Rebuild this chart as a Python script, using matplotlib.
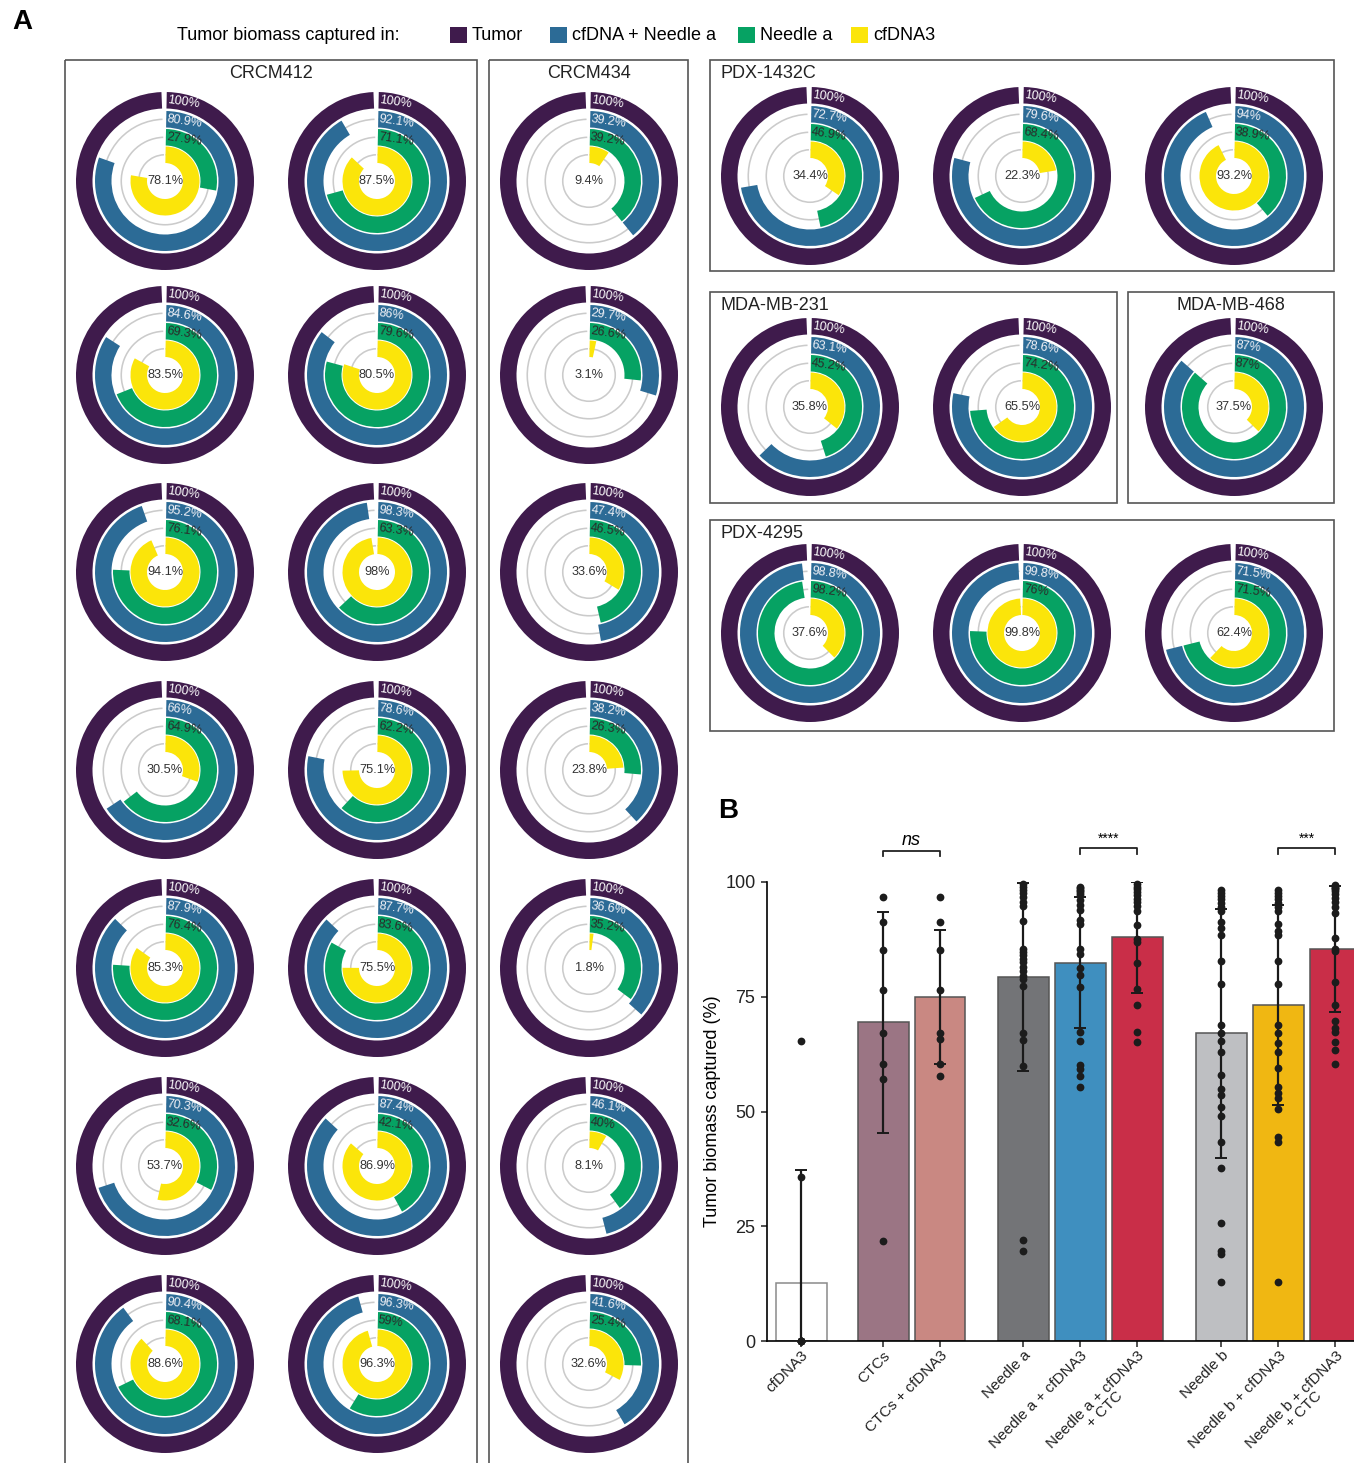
import numpy as np
import matplotlib.pyplot as plt
from matplotlib.patches import Rectangle

plt.rcParams['font.family'] = ['Liberation Sans', 'DejaVu Sans']

# canvas size in pixels (dpi 100)
W, H = 1354, 1463

# ring colours (outer -> inner)
C_TUMOR = '#3f1b4c'
C_BLUE = '#2c6b96'
C_GREEN = '#06a263'
C_YELLOW = '#fbe50a'
C_TRACK = '#cbcbcb'

# ---------------- panel A: % tumor biomass captured ----------------
# CRCM412, row by row (left, right)
crcm412_blue = [80.9, 92.1, 84.6, 86, 95.2, 98.3, 66, 78.6, 87.9, 87.7, 70.3, 87.4, 90.4, 96.3]
crcm412_green = [27.9, 71.1, 69.3, 79.6, 76.1, 63.3, 64.9, 62.2, 76.4, 83.6, 32.6, 42.1, 68.1, 59]
crcm412_yellow = [78.1, 87.5, 83.5, 80.5, 94.1, 98, 30.5, 75.1, 85.3, 75.5, 53.7, 86.9, 88.6, 96.3]

crcm434_blue = [39.2, 29.7, 47.4, 38.2, 36.6, 46.1, 41.6]
crcm434_green = [39.2, 26.6, 46.5, 26.3, 35.2, 40, 25.4]
crcm434_yellow = [9.4, 3.1, 33.6, 23.8, 1.8, 8.1, 32.6]

pdx1432c_blue = [72.7, 79.6, 94]
pdx1432c_green = [46.9, 68.4, 38.9]
pdx1432c_yellow = [34.4, 22.3, 93.2]

mda231_blue = [63.1, 78.6]
mda231_green = [45.2, 74.2]
mda231_yellow = [35.8, 65.5]

mda468_blue = [87]
mda468_green = [87]
mda468_yellow = [37.5]

pdx4295_blue = [98.8, 99.8, 71.5]
pdx4295_green = [98.2, 76, 71.5]
pdx4295_yellow = [37.6, 99.8, 62.4]

legend_labels = ['Tumor', 'cfDNA + Needle a', 'Needle a', 'cfDNA3']

# ---------------- panel B ----------------
b_labels = ['cfDNA3', 'CTCs', 'CTCs + cfDNA3', 'Needle a', 'Needle a + cfDNA3',
            'Needle a + cfDNA3\n+ CTC', 'Needle b', 'Needle b + cfDNA3',
            'Needle b + cfDNA3\n+ CTC']
b_mean = [12.66, 69.4, 75.0, 79.3, 82.4, 88.0, 67.0, 73.2, 85.4]
b_sd = [24.6, 24.0, 14.65, 20.5, 14.3, 12.1, 27.2, 21.7, 13.7]
b_colors = ['#ffffff', '#9b7584', '#c98882', '#737477', '#3f8fbf', '#c92e48',
            '#bebfc2', '#f0b712', '#c92e48']

pts_cfdna3 = [65.4, 35.7, 0, 0, 0, 0, 0, 0]
pts_ctc = [96.7, 91.2, 85.2, 76.5, 67.2, 60.3, 57.1, 21.7]
pts_ctc_cf = [96.7, 91.2, 85.2, 76.5, 67.2, 65.7, 60.3, 57.7]
pts_needle_a = [99.5, 98.9, 98.2, 97.5, 96.7, 95.6, 94.8, 91.5, 85.5, 84.8, 84.0, 83.3,
                82.5, 81.5, 80.6, 79.5, 78.8, 77.3, 67.0, 65.5, 60.0, 22.0, 19.6]
pts_needle_a_cf = [99.0, 98.6, 98.3, 98.0, 97.6, 97.2, 96.1, 95.0, 93.8, 91.7, 90.8,
                   85.3, 84.4, 81.2, 79.8, 77.1, 67.4, 65.3, 60.1, 59.2, 57.8, 55.3]
pts_needle_a_all = [99.5, 99.0, 98.4, 97.8, 97.1, 96.4, 95.6, 94.8, 93.6, 90.6, 87.6,
                    87.0, 82.3, 76.6, 73.2, 67.4, 65.1]
pts_needle_b = [98.2, 97.6, 97.0, 96.3, 95.5, 94.6, 93.6, 91.3, 89.9, 88.5, 82.8, 77.7,
                68.8, 67.0, 65.3, 63.0, 58.0, 54.9, 53.7, 50.9, 49.1, 43.3, 37.6,
                25.7, 19.7, 19.0, 12.8]
pts_needle_b_cf = [98.2, 97.6, 97.0, 96.3, 95.5, 94.6, 93.6, 90.8, 89.4, 88.5, 82.8,
                   77.7, 68.8, 67.0, 65.0, 63.0, 59.4, 55.3, 54.1, 52.9, 50.5, 44.5,
                   43.3, 12.8]
pts_needle_b_all = [99.3, 99.0, 98.7, 98.4, 98.0, 97.3, 96.5, 95.6, 94.5, 93.3, 87.8,
                    85.5, 84.9, 78.3, 73.1, 69.7, 68.3, 67.4, 65.1, 63.3, 60.4]

b_points = [pts_cfdna3, pts_ctc, pts_ctc_cf, pts_needle_a, pts_needle_a_cf,
            pts_needle_a_all, pts_needle_b, pts_needle_b_cf, pts_needle_b_all]

# bar positions: three groups after the single cfDNA3 bar
b_pos = [0, 1.44, 2.44, 3.9, 4.9, 5.9, 7.38, 8.38, 9.38]


# ring geometry in pixels (polar axes radius = pixels)
R = 90
RING_BOTTOM = [72.5, 53.5, 35.5, 18]
RING_H = 16.5
START = 0.02                 # small gap at 12 o'clock
SPAN = 2 * np.pi - 0.06      # angle of 100 %


def draw_donut(fig, cx, cy, blue, green, yellow, tumor=100):
    """ Draws one radial bar chart centred on pixel (cx, cy). """
    ax = fig.add_axes([(cx - R) / W, (H - cy - R) / H, 2 * R / W, 2 * R / H],
                      projection='polar')
    ax.set_theta_zero_location('N')
    ax.set_theta_direction(-1)
    ax.set_ylim(0, R)
    ax.set_axis_off()

    values = [tumor, blue, green, yellow]
    colors = [C_TUMOR, C_BLUE, C_GREEN, C_YELLOW]
    text_colors = ['white', '#f2f2f7', '#2a2a2a']

    for i, (v, c) in enumerate(zip(values, colors)):
        mid = RING_BOTTOM[i] + RING_H / 2
        # thin grey track under the coloured arc
        if i > 0:
            ax.bar(START, 1.6, width=SPAN, bottom=mid - 0.8, align='edge',
                   color=C_TRACK, linewidth=0)
        ax.bar(START, RING_H, width=v / 100 * SPAN, bottom=RING_BOTTOM[i],
               align='edge', color=c, linewidth=0)
        if i < 3:
            ax.text(START + 0.012, mid, f'{v:g}%', color=text_colors[i],
                    fontsize=9, ha='left', va='center', rotation=-8,
                    rotation_mode='anchor')

    # cfDNA3 value in the middle
    ax.text(0, 0, f'{yellow:g}%', color='#333333', fontsize=9.2,
            ha='center', va='center')


fig = plt.figure(figsize=(W / 100, H / 100), dpi=100)

# background axes in pixel units for frames, titles and legend
bg = fig.add_axes([0, 0, 1, 1])
bg.set_xlim(0, W)
bg.set_ylim(H, 0)
bg.set_axis_off()

bg.text(12, 22, 'A', fontsize=20, fontweight='bold', ha='left', va='center')
bg.text(718, 811, 'B', fontsize=20, fontweight='bold', ha='left', va='center')

# legend row
bg.text(177, 35, 'Tumor biomass captured in:', fontsize=13, ha='left', va='center')
legend_x = [450, 550, 738, 851]
for x, lab, c in zip(legend_x, legend_labels, [C_TUMOR, C_BLUE, C_GREEN, C_YELLOW]):
    bg.add_patch(Rectangle((x, 27), 17, 16, color=c, lw=0))
    bg.text(x + 22, 35, lab, fontsize=13, ha='left', va='center')

# cell line frames: x, y, width, height, title, title alignment
frames = [(65, 60, 412, 1420, 'CRCM412', 'center'),
          (489, 60, 199, 1420, 'CRCM434', 'center'),
          (710, 60, 624, 211, 'PDX-1432C', 'left'),
          (710, 292, 407, 211, 'MDA-MB-231', 'left'),
          (1128, 292, 206, 211, 'MDA-MB-468', 'center'),
          (710, 520, 624, 211, 'PDX-4295', 'left')]
for x, y, w, h, title, align in frames:
    bg.add_patch(Rectangle((x, y), w, h, fill=False, ec='#555555', lw=1.2))
    tx = x + w / 2 if align == 'center' else x + 10
    bg.text(tx, y + 13, title, fontsize=13, ha=align, va='center', color='#222222')

# CRCM412 / CRCM434 columns
rows_y = [181, 375, 572, 770, 968, 1166, 1364]
for k in range(len(crcm412_blue)):
    cx = [165, 377][k % 2]
    draw_donut(fig, cx, rows_y[k // 2], crcm412_blue[k], crcm412_green[k],
               crcm412_yellow[k])
for k in range(len(crcm434_blue)):
    draw_donut(fig, 589, rows_y[k], crcm434_blue[k], crcm434_green[k],
               crcm434_yellow[k])

# right hand side panels
cols_x = [810, 1022, 1234]
for k in range(3):
    draw_donut(fig, cols_x[k], 176, pdx1432c_blue[k], pdx1432c_green[k],
               pdx1432c_yellow[k])
for k in range(2):
    draw_donut(fig, cols_x[k], 407, mda231_blue[k], mda231_green[k],
               mda231_yellow[k])
draw_donut(fig, cols_x[2], 407, mda468_blue[0], mda468_green[0], mda468_yellow[0])
for k in range(3):
    draw_donut(fig, cols_x[k], 633, pdx4295_blue[k], pdx4295_green[k],
               pdx4295_yellow[k])

# ---------------- panel B bar chart ----------------
axb = fig.add_axes([767 / W, (H - 1341) / H, 598 / W, 459 / H])
edges = ['#8a8a8a'] + ['#555555'] * 8
axb.bar(b_pos, b_mean, width=0.89, color=b_colors, edgecolor=edges,
        linewidth=1.1, zorder=1)
axb.errorbar(b_pos, b_mean, yerr=b_sd, fmt='none', ecolor='#1a1a1a',
             elinewidth=1.6, capsize=4.5, capthick=1.4, zorder=3)
for x, pts in zip(b_pos, b_points):
    axb.plot(np.full(len(pts), x), pts, 'o', color='#1c1c1c', ms=5.6,
             mec='none', clip_on=False, zorder=4)

axb.set_xlim(-0.6, 9.9)
axb.set_ylim(0, 100)
axb.set_yticks([0, 25, 50, 75, 100])
axb.set_xticks(b_pos)
axb.set_xticklabels(b_labels, rotation=45, ha='right', va='top',
                    rotation_mode='anchor', multialignment='center',
                    fontsize=11, linespacing=0.95)
axb.spines[['top', 'right']].set_visible(False)
for sp in ['left', 'bottom']:
    axb.spines[sp].set_linewidth(1.2)
axb.tick_params(axis='y', labelsize=13, pad=4)
axb.tick_params(axis='x', pad=1)
axb.tick_params(length=4.3, width=1.1, colors='#222222')
axb.set_ylabel('Tumor biomass captured (%)', fontsize=13, labelpad=3)


def bracket(ax, i, j, y, text, **kw):
    """ Significance bracket between bars i and j. """
    x1, x2 = b_pos[i], b_pos[j]
    ax.plot([x1, x1, x2, x2], [y - 1.2, y, y, y - 1.2], color='#222222',
            lw=1.3, clip_on=False)
    ax.text((x1 + x2) / 2, y + 0.4, text, ha='center', va='bottom', **kw)


bracket(axb, 1, 2, 106.8, 'ns', fontsize=13, style='italic')
bracket(axb, 4, 5, 107.4, '****', fontsize=10)
bracket(axb, 7, 8, 107.4, '***', fontsize=10)

fig.savefig('out.png', dpi=100)
